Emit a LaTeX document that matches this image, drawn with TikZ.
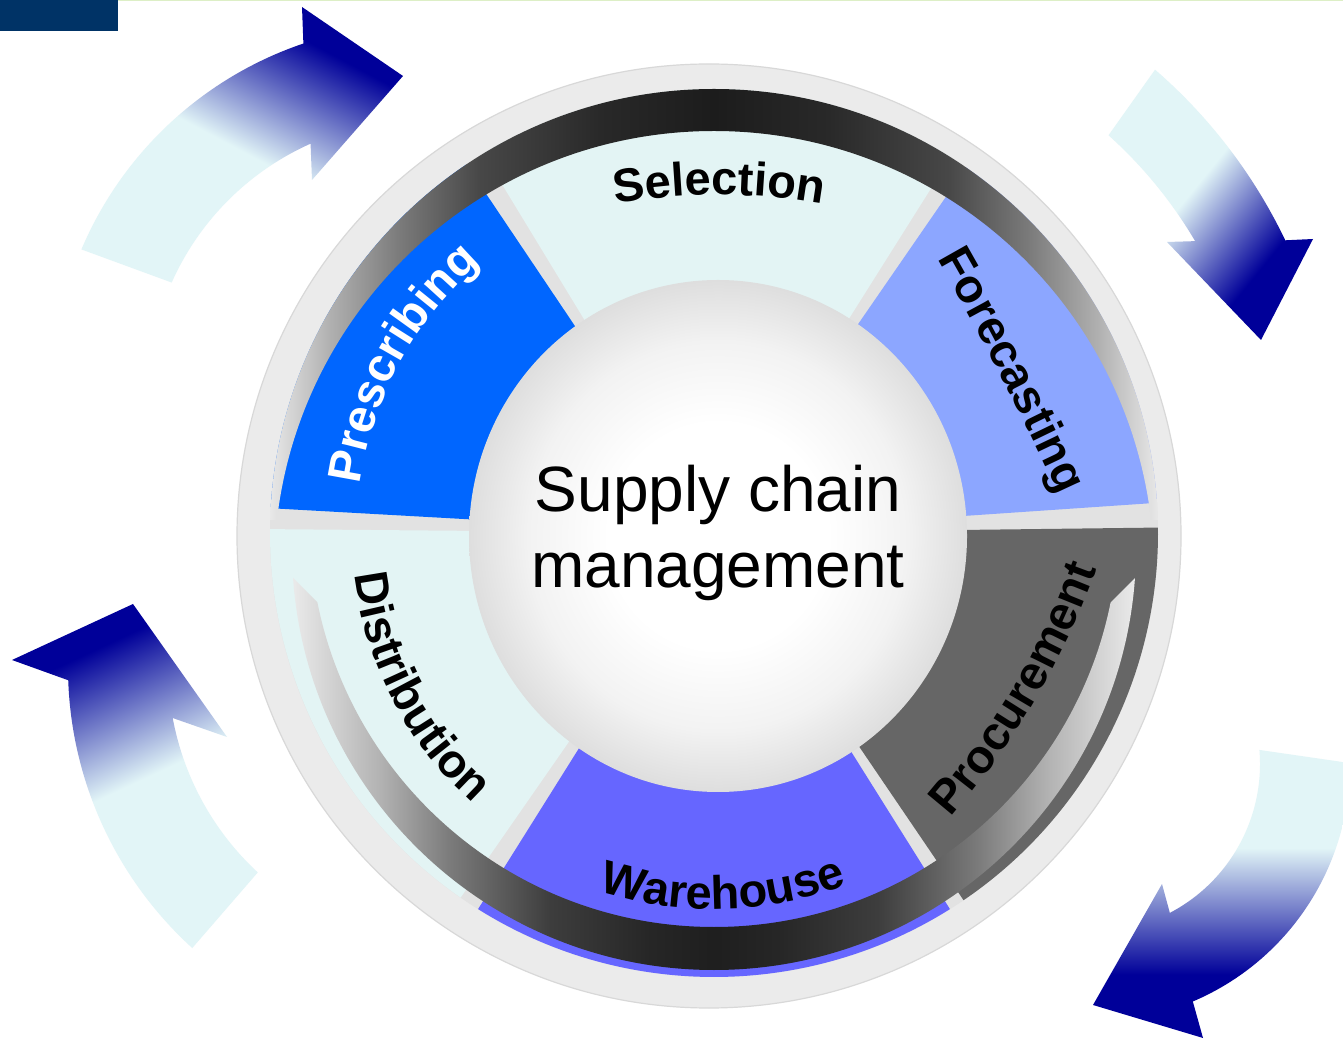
\documentclass[tikz,border=0pt]{standalone}
\usepackage{fontspec}
\setmainfont{Liberation Sans}
\usetikzlibrary{calc,decorations.text}
\definecolor{navyrect}{HTML}{003366}
\definecolor{topline}{HTML}{DDEFC6}
\definecolor{diskgray}{HTML}{EBEBEB}
\definecolor{diskedge}{HTML}{D8D8D8}
\definecolor{gapgray}{HTML}{E2E2E2}
\definecolor{cPres}{HTML}{0066FF}
\definecolor{cSel}{HTML}{E3F4F4}
\definecolor{cFore}{HTML}{8CA6FF}
\definecolor{cProc}{HTML}{666666}
\definecolor{cWare}{HTML}{6666FF}
\definecolor{cDist}{HTML}{E3F4F4}
\definecolor{acyan}{HTML}{E2F5F7}
\definecolor{anavy}{HTML}{000099}
\pgfdeclarehorizontalshading{ringup}{100bp}{color(0bp)=(black!9); color(25bp)=(black!9); color(28.4bp)=(black!31); color(32.3bp)=(black!52); color(36.8bp)=(black!72); color(43.6bp)=(black!84); color(50bp)=(black!89); color(56.4bp)=(black!84); color(63.2bp)=(black!72); color(67.7bp)=(black!52); color(71.6bp)=(black!31); color(75bp)=(black!9); color(100bp)=(black!9)}
\pgfdeclarehorizontalshading{ringlow}{100bp}{color(0bp)=(black!8); color(25bp)=(black!8); color(30.2bp)=(black!30); color(34.4bp)=(black!52); color(40.3bp)=(black!76); color(46.2bp)=(black!85); color(50bp)=(black!88); color(53.8bp)=(black!85); color(59.7bp)=(black!76); color(65.6bp)=(black!52); color(69.8bp)=(black!30); color(75bp)=(black!8); color(100bp)=(black!8)}
\pgfdeclareradialshading{sphsh}{\pgfpoint{0bp}{0bp}}{color(0bp)=(white); color(11bp)=(white); color(19bp)=(black!5); color(25bp)=(black!13); color(50bp)=(black!13)}
\pgfdeclareverticalshading{arrsh}{100bp}{color(0bp)=(acyan); color(49bp)=(acyan); color(71bp)=(anavy); color(100bp)=(anavy)}
\pgfdeclareverticalshading{arrshb}{100bp}{color(0bp)=(acyan); color(45bp)=(acyan); color(67bp)=(anavy); color(100bp)=(anavy)}
\pgfdeclareverticalshading{arrshc}{100bp}{color(0bp)=(acyan); color(42bp)=(acyan); color(64bp)=(anavy); color(100bp)=(anavy)}
\newcommand\labfont{\fontsize{47}{50}\selectfont\bfseries}
% clockwise arc label: baseline middle (x,y), reading angle, radius, half span, colour, text
\newcommand\cwlab[7]{%
  \path[decorate, decoration={text along path, text align=center, text color=#6, text={|\labfont|#7}}]
    ($(#1,#2)+({#3-90}:#4)+({#3+90+#5}:#4)$) arc[start angle={#3+90+#5}, end angle={#3+90-#5}, radius=#4];}
% counter-clockwise arc label
\newcommand\ccwlab[7]{%
  \path[decorate, decoration={text along path, text align=center, text color=#6, text={|\labfont|#7}}]
    ($(#1,#2)+({#3+90}:#4)+({#3-90-#5}:#4)$) arc[start angle={#3-90-#5}, end angle={#3-90+#5}, radius=#4];}
\tikzset{
  arrowshape/.style={shading=#1},
  centertext/.style={font=\fontsize{64}{76}\selectfont, anchor=base, inner sep=0pt},
}
\begin{document}
\begin{tikzpicture}[x=1pt,y=1pt]
\useasboundingbox (0,0) rectangle (1343,1039);
\clip (0,0) rectangle (1343,1039);
\fill[white] (0,0) rectangle (1343,1039);
% header marks
\fill[navyrect] (0,1008) rectangle (118,1039);
\fill[topline] (118,1037.5) rectangle (1343,1039);
% curved arrows
\shade[arrowshape=arrsh, shading angle=-28]
  ($(422,645)+(157:370)$) arc[start angle=157, end angle=108.7, radius=370]
  -- (302,1032) -- (403,963) -- (312,859) -- ($(422,645)+(114:274)$)
  arc[start angle=114, end angle=156, radius=274] -- cycle;
\shade[arrowshape=arrshb, shading angle=-129]
  ($(810,571)+(49.1:527)$) arc[start angle=49.1, end angle=25.6, radius=527]
  -- (1313,800) -- (1261,699) -- (1167,797) -- ($(810,571)+(30.5:447)$)
  arc[start angle=30.5, end angle=48.1, radius=447] -- cycle;
\shade[arrowshape=arrsh, shading angle=25]
  ($(448,372)+(227.7:380)$) arc[start angle=227.7, end angle=182, radius=380]
  -- (12,379) -- (133,435) -- (227,302) -- ($(448,372)+(190.5:280)$)
  arc[start angle=190.5, end angle=227.2, radius=280] -- cycle;
\shade[arrowshape=arrshc, shading angle=180]
  ($(1092,275)+(0.2:258)$) arc[start angle=0.2, end angle=-67, radius=258]
  -- (1203,1) -- (1093,34) -- (1162,155) -- ($(1092,275)+(-62.4:168)$)
  arc[start angle=-62.4, end angle=4.8, radius=168] -- cycle;
% outer disk
\filldraw[fill=diskgray, draw=diskedge, line width=1.2] (709,503) circle[radius=472];
% segments
\begin{scope}[shift={(714,506)}]
  \fill[gapgray, even odd rule] (0,0) circle[radius=444] (0,0) circle[radius=240];
  \fill[cProc] (-55.8:444) arc[start angle=-55.8, end angle=0.7, radius=444] -- (0.7:240) arc[start angle=0.7, end angle=-55.8, radius=240] -- cycle;
  \fill[cFore] (3.9:444) arc[start angle=3.9, end angle=55.4, radius=444] -- (55.4:240) arc[start angle=55.4, end angle=3.9, radius=240] -- cycle;
  \fill[cSel] (57.8:444) arc[start angle=57.8, end angle=121.3, radius=444] -- (121.3:240) arc[start angle=121.3, end angle=57.8, radius=240] -- cycle;
  \fill[cPres] (123.9:444) arc[start angle=123.9, end angle=176.8, radius=444] -- (176.8:240) arc[start angle=176.8, end angle=123.9, radius=240] -- cycle;
  \fill[cDist] (179.5:444) arc[start angle=179.5, end angle=235.2, radius=444] -- (235.2:240) arc[start angle=235.2, end angle=179.5, radius=240] -- cycle;
  \fill[cWare] (237.9:444) arc[start angle=237.9, end angle=302.1, radius=444] -- (302.1:240) arc[start angle=302.1, end angle=237.9, radius=240] -- cycle;
\end{scope}
% dark bevel ring: upper crescent
\begin{scope}
  \clip (0,519) rectangle (1343,1039);
  \clip (714,506) circle[radius=444];
  \shade[shading=ringup, even odd rule] (714,506) circle[radius=444] (714,468) circle[radius=440];
\end{scope}
% dark bevel ring: lower crescent
\begin{scope}
  \clip (0,0) -- (0,484) -- (270,484) -- (350,404) -- (1078,404) -- (1158,484) -- (1343,484) -- (1343,0) -- cycle;
  \clip (714,491) circle[radius=422];
  \shade[shading=ringlow, even odd rule] (714,491) circle[radius=422] (714,516.5) circle[radius=404.5];
\end{scope}
% centre sphere
\shade[shading=sphsh] (718,503) ellipse[x radius=249, y radius=256];
\node[centertext] (scA) at (718,527) {Supply chain};
\node[centertext] (scB) at (718,451) {management};
% curved labels
\cwlab{719}{844}{0}{600}{19}{black}{Selection}
\cwlab{400.2}{676.4}{61.5}{357}{33}{white}{Prescribing}
\cwlab{1001}{663}{-62.8}{3000}{4}{black}{Forecasting}
\ccwlab{1035}{339}{59.6}{790}{15}{black}{Procurement}
\ccwlab{723.2}{130.1}{1.4}{376}{31}{black}{Warehouse}
\ccwlab{392.9}{338.8}{-62.5}{362}{32}{black}{Distribution}
\end{tikzpicture}
\end{document}
